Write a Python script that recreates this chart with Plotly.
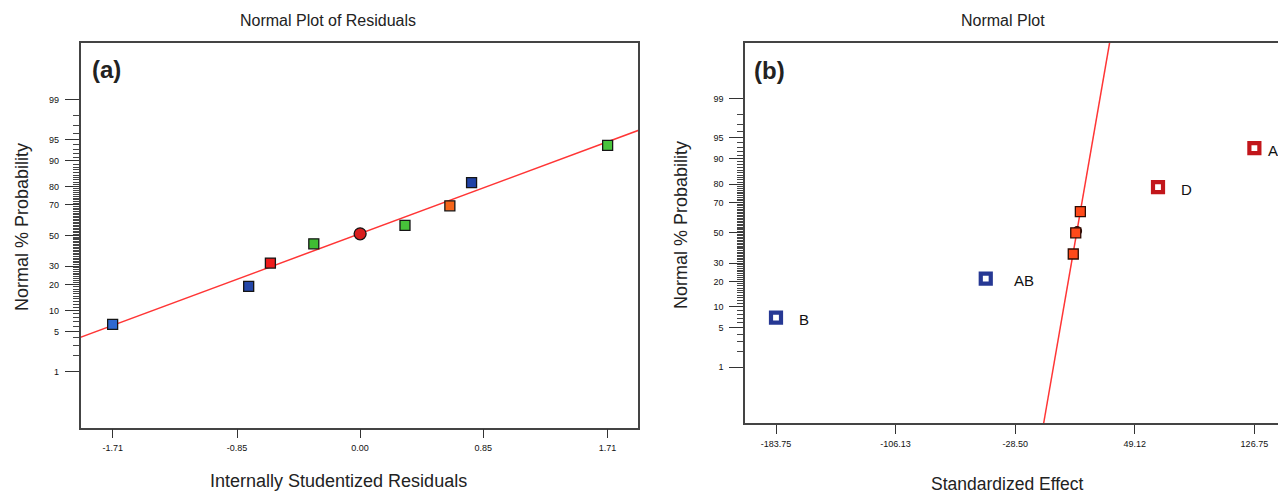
import plotly.graph_objects as go
from statistics import NormalDist

_nd = NormalDist()


def zval(p):
    return _nd.inv_cdf(p / 100.0)


# ---------------- data: panel (a) Normal Plot of Residuals ----------------
resid_x = [-1.71, -0.77, -0.62, -0.32, 0.00, 0.31, 0.62, 0.77, 1.71]
resid_pct = [6.4, 19.2, 31.9, 44.4, 51.2, 56.9, 69.5, 81.8, 93.9]
resid_colors = ["#2f68d0", "#2447a8", "#ee1c1c", "#3fbd33", "#d81e1e",
                "#47c23a", "#f5651a", "#2243a6", "#49c43c"]
resid_is_center = [False, False, False, False, True, False, False, False, False]
fit_a_x = [-2.0, 2.0]
fit_a_pct = [3.55, 96.96]
xa_ticks = [-1.71, -0.85, 0.00, 0.85, 1.71]
xa_labels = ["-1.71", "-0.85", "0.00", "0.85", "1.71"]

# ---------------- data: panel (b) Normal Plot of effects ----------------
effect_names = ["B", "AB", "", "", "", "D", "A"]
effect_x = [-183.75, -47.6, 9.2, 10.8, 13.8, 64.2, 126.75]
effect_pct = [7.14, 21.43, 35.71, 50.0, 64.29, 78.57, 92.86]
effect_kind = ["neg", "neg", "err", "err", "err", "pos", "pos"]
error_dot_x = [11.7]
error_dot_pct = [51.3]
fit_b_x = [-10.0, 32.8]
fit_b_pct = [0.05, 99.95]
xb_ticks = [-183.75, -106.13, -28.50, 49.12, 126.75]
xb_labels = ["-183.75", "-106.13", "-28.50", "49.12", "126.75"]

# probability axis ticks
prob_major = [1, 5, 10, 20, 30, 50, 70, 80, 90, 95, 99]
prob_minor = [p for p in range(1, 100) if p not in prob_major]

# ---------------- styles ----------------
FONT = "Liberation Sans, Arial, sans-serif"
TICKFONT = dict(family="Liberation Sans Narrow, Liberation Sans, Arial", size=9, color="#111")
W, H = 1278, 494
LABEL_SHIFT = {"B": 21, "AB": 26, "D": 21, "A": 12}


def px_x(v):
    return v / W


def px_y(v):
    return 1 - v / H


fig = go.Figure()

# panel (a)
fig.add_trace(go.Scatter(
    x=fit_a_x, y=[zval(p) for p in fit_a_pct], mode="lines",
    line=dict(color="#ff3535", width=1.5), xaxis="x", yaxis="y",
    hoverinfo="skip", showlegend=False))
fig.add_trace(go.Scatter(
    x=resid_x, y=[zval(p) for p in resid_pct], mode="markers",
    marker=dict(symbol=["circle" if c else "square" for c in resid_is_center],
                size=[12 if c else 10 for c in resid_is_center],
                color=resid_colors, opacity=1,
                line=dict(color="#151515", width=1.3)),
    xaxis="x", yaxis="y", showlegend=False))

# panel (b)
fig.add_trace(go.Scatter(
    x=fit_b_x, y=[zval(p) for p in fit_b_pct], mode="lines",
    line=dict(color="#ff3535", width=1.5), xaxis="x2", yaxis="y2",
    hoverinfo="skip", showlegend=False))
fig.add_trace(go.Scatter(
    x=error_dot_x, y=[zval(p) for p in error_dot_pct], mode="markers",
    marker=dict(symbol="circle", size=9, color="#6b0f08", opacity=1,
                line=dict(color="#2a0a05", width=1)),
    xaxis="x2", yaxis="y2", showlegend=False))

fill_map = {"neg": "white", "pos": "white", "err": "#ff4a1a"}
line_map = {"neg": "#263894", "pos": "#c2161b", "err": "#2e0c04"}
lw_map = {"neg": 4.2, "pos": 4.2, "err": 1.3}
size_map = {"neg": 10, "pos": 10, "err": 10}
fig.add_trace(go.Scatter(
    x=effect_x, y=[zval(p) for p in effect_pct], mode="markers",
    marker=dict(symbol="square", opacity=1,
                size=[size_map[k] for k in effect_kind],
                color=[fill_map[k] for k in effect_kind],
                line=dict(color=[line_map[k] for k in effect_kind],
                          width=[lw_map[k] for k in effect_kind])),
    xaxis="x2", yaxis="y2", showlegend=False))

annotations = []
for name, xv, pv in zip(effect_names, effect_x, effect_pct):
    if name:
        annotations.append(dict(
            x=xv, y=zval(pv), xref="x2", yref="y2", text=name, showarrow=False,
            xanchor="left", yanchor="middle", xshift=LABEL_SHIFT[name], yshift=-2,
            font=dict(family=FONT, size=15, color="#111")))


# titles and labels (paper coordinates from pixel layout)
def paper_text(text, x, y, size, angle=0, bold=False):
    return dict(text=f"<b>{text}</b>" if bold else text, x=px_x(x), y=px_y(y),
                xref="paper", yref="paper", showarrow=False, textangle=angle,
                xanchor="center", yanchor="middle",
                font=dict(family=FONT, size=size, color="#222"))


annotations += [
    paper_text("Normal Plot of Residuals", 328, 20, 16),
    paper_text("Normal Plot", 1003, 20, 16),
    paper_text("Internally Studentized Residuals", 338, 481, 18),
    paper_text("Standardized Effect", 1007, 484, 17.5),
    paper_text("Normal % Probability", 22, 227, 18, angle=-90),
    paper_text("Normal % Probability", 681, 225, 18, angle=-90),
    paper_text("(a)", 106, 69, 24, bold=True),
    paper_text("(b)", 769, 71, 24, bold=True),
]


def prob_axis(domain, rng, anchor, mirror):
    return dict(domain=domain, range=rng, anchor=anchor,
                tickmode="array", tickvals=[zval(p) for p in prob_major],
                ticktext=[str(p) for p in prob_major],
                ticks="outside", ticklen=14, tickwidth=1, tickcolor="#333",
                ticklabelstandoff=4, tickfont=TICKFONT,
                minor=dict(tickmode="array", tickvals=[zval(p) for p in prob_minor],
                           ticks="outside", ticklen=6, tickwidth=1, tickcolor="#444",
                           showgrid=False),
                showline=True, linecolor="#444", linewidth=1.5, mirror=mirror,
                showgrid=False, zeroline=False, fixedrange=True)


def value_axis(domain, rng, anchor, vals, labels, mirror):
    return dict(domain=domain, range=rng, anchor=anchor,
                tickmode="array", tickvals=vals, ticktext=labels,
                ticks="outside", ticklen=9, tickwidth=1, tickcolor="#333",
                tickfont=TICKFONT, ticklabelstandoff=2,
                showline=True, linecolor="#444", linewidth=1.5, mirror=mirror,
                showgrid=False, zeroline=False, fixedrange=True)


fig.update_layout(
    width=W, height=H,
    margin=dict(l=0, r=0, t=0, b=0),
    paper_bgcolor="white", plot_bgcolor="white",
    font=dict(family=FONT, color="#222"),
    xaxis=value_axis([px_x(80.5), px_x(638.3)], [-1.932, 1.922], "y",
                     xa_ticks, xa_labels, True),
    yaxis=prob_axis([px_y(427.6), px_y(43)], [-3.29, 3.30], "x", True),
    xaxis2=value_axis([px_x(745), 1.0], [-203.87, 142.08], "y2",
                      xb_ticks, xb_labels, True),
    yaxis2=prob_axis([px_y(423), px_y(42.7)], [-3.29, 3.29], "x2", False),
    annotations=annotations,
    showlegend=False,
)

fig.write_html("out.html", config={"displayModeBar": False},
               post_script="document.body.style.margin='0';document.body.style.overflow='hidden';")

# remove the browser's default page margin so the figure fills the window exactly
with open("out.html", "r", encoding="utf-8") as fh:
    html = fh.read()
html = html.replace("<body>", '<body style="margin:0;padding:0;overflow:hidden">', 1)
with open("out.html", "w", encoding="utf-8") as fh:
    fh.write(html)
